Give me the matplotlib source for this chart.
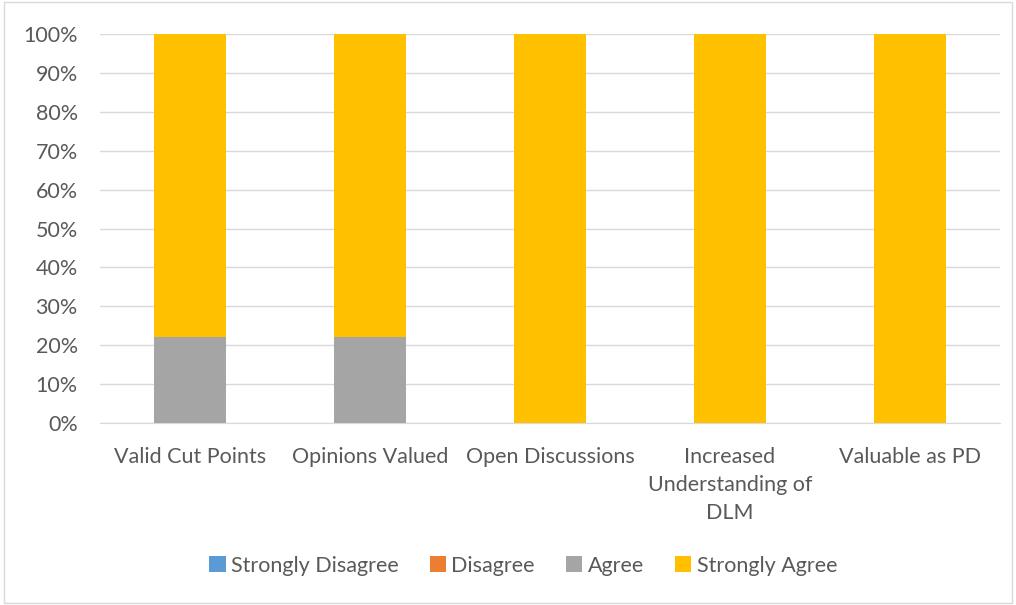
import numpy as np
import matplotlib.pyplot as plt
from matplotlib.patches import Rectangle

categories = ['Valid Cut Points', 'Opinions Valued', 'Open Discussions',
              'Increased\nUnderstanding of\nDLM', 'Valuable as PD']
strongly_disagree = [0, 0, 0, 0, 0]
disagree = [0, 0, 0, 0, 0]
agree = [22.2, 22.2, 0, 0, 0]
strongly_agree = [77.8, 77.8, 100, 100, 100]

series = [('Strongly Disagree', strongly_disagree, '#5b9bd5'),
          ('Disagree', disagree, '#ed7d31'),
          ('Agree', agree, '#a5a5a5'),
          ('Strongly Agree', strongly_agree, '#ffc000')]

plt.rcParams['font.family'] = ['Lato', 'DejaVu Sans']
text_color = '#595959'

fig = plt.figure(figsize=(10.16, 6.05), dpi=100)
ax = fig.add_axes([0.0984, 0.3008, 0.8858, 0.643])

x = np.arange(len(categories))
bottom = np.zeros(len(categories))
for name, vals, color in series:
    vals = np.array(vals, dtype=float)
    ax.bar(x, vals, width=0.4, bottom=bottom, color=color, label=name, zorder=3)
    bottom += vals

ax.set_xlim(-0.5, len(categories) - 0.5)
ax.set_ylim(0, 100)
ax.set_yticks(np.arange(0, 101, 10))
ax.set_yticklabels([f'{v}%' for v in range(0, 101, 10)])
ax.set_xticks(x)
ax.set_xticklabels(categories, linespacing=1.5)
ax.tick_params(axis='both', length=0, labelsize=15.5, colors=text_color)
ax.tick_params(axis='y', pad=16)
ax.tick_params(axis='x', pad=17)
ax.grid(axis='y', color='#d9d9d9', linewidth=1, zorder=0)
for s in ['top', 'right', 'left']:
    ax.spines[s].set_visible(False)
ax.spines['bottom'].set_color('#d9d9d9')

fig.legend(loc='center', bbox_to_anchor=(0.515, 0.065), ncol=4, frameon=False,
           fontsize=15.5, labelcolor=text_color, handlelength=0.75, handleheight=0.75,
           handletextpad=0.25, columnspacing=1.45)

fig.patches.append(Rectangle((0.004, 0.004), 0.992, 0.992, transform=fig.transFigure,
                             fill=False, edgecolor='#d9d9d9', linewidth=1))

fig.savefig('out.png', dpi=100)
